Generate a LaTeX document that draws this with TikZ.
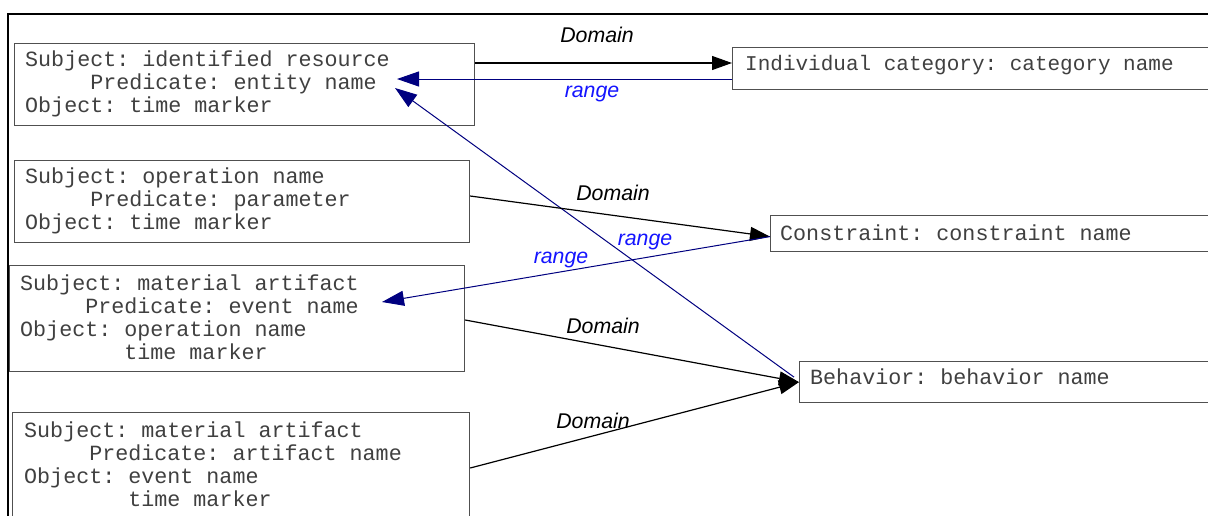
\documentclass[tikz,border=0pt]{standalone}
\usepackage{fontspec}
\setmainfont{Liberation Sans}
\setmonofont{Liberation Mono}
\usetikzlibrary{arrows.meta,calc}
\definecolor{navyline}{RGB}{0,0,128}
\definecolor{lblblue}{RGB}{20,20,255}
\definecolor{boxgray}{RGB}{80,80,80}
\begin{document}
\begin{tikzpicture}[x=1pt,y=-1pt,
  box/.style={draw=boxgray,line width=1.2pt,inner sep=0pt,anchor=north west},
  mono/.style={font=\ttfamily\fontsize{21.7}{23}\selectfont,inner sep=0pt,align=left,anchor=north west,text=black!75},
  monoone/.style={font=\ttfamily\fontsize{21.7}{23}\selectfont,inner sep=0pt,anchor=base west,text=black!75},
  lbl/.style={font=\itshape\fontsize{21.3}{24}\selectfont,inner sep=0pt,anchor=base},
  rlbl/.style={lbl,text=lblblue},
  dom/.style={draw=black,line width=1.2pt,-{Triangle[length=20pt,width=14pt]}},
  rng/.style={draw=navyline,line width=1pt,-{Triangle[length=22pt,width=15pt]}}
]
\useasboundingbox (0,0) rectangle (1208,515);
\clip (0,0) rectangle (1208,515);
\fill[white] (0,0) rectangle (1208,515);
% outer frame
\draw[line width=2.2pt] (8,560) -- (8,14) -- (1260,14);
% boxes
\node[box,minimum width=460pt,minimum height=82pt] (b1) at (14,43) {};
\node[box,minimum width=455pt,minimum height=82pt] (b2) at (14,160) {};
\node[box,minimum width=455pt,minimum height=106pt] (b3) at (9,265) {};
\node[box,minimum width=457pt,minimum height=150pt] (b4) at (12,412) {};
\node[box,minimum width=560pt,minimum height=42pt] (ind) at (732,47) {};
\node[box,minimum width=520pt,minimum height=36pt] (con) at (770,215) {};
\node[box,minimum width=490pt,minimum height=41pt] (beh) at (799,361) {};
% box texts
\node[mono] (t1) at (25,48) {\rule{0pt}{18pt}Subject: identified resource\\\phantom{xxxxx}Predicate: entity name\\Object: time marker};
\node[mono] (t2) at (25,165.5) {\rule{0pt}{18pt}Subject: operation name\\\phantom{xxxxx}Predicate: parameter\\Object: time marker};
\node[mono] (t3) at (20,272) {\rule{0pt}{18pt}Subject: material artifact\\\phantom{xxxxx}Predicate: event name\\Object: operation name\\\phantom{xxxxxxxx}time marker};
\node[mono] (t4) at (24,419) {\rule{0pt}{18pt}Subject: material artifact\\\phantom{xxxxx}Predicate: artifact name\\Object: event name\\\phantom{xxxxxxxx}time marker};
\node[monoone,font=\ttfamily\fontsize{21}{23}\selectfont] (tind) at (745,70) {Individual category: category name};
\node[monoone] (tcon) at (780,240) {Constraint: constraint name};
\node[monoone] (tbeh) at (810,384) {Behavior: behavior name};
% helper coordinates
\coordinate (y63) at (0,63);
\coordinate (p1) at (397,79);
\coordinate (p2) at (395,88);
\coordinate (y196) at (0,196);
\coordinate (p3) at (382,302);
\coordinate (y320) at (0,320);
\coordinate (y468) at (0,468);
% connectors
\draw[dom] (b1.east |- y63) -- (ind.west |- y63);
\draw[rng] (ind.west |- p1) -- (p1);
\draw[rng] ($(beh.west)+(-5,-5)$) -- (p2);
\draw[dom] (b2.east |- y196) -- ($(con.west)+(0,3)$);
\draw[rng] ($(con.west)+(0,3)$) -- (p3);
\draw[dom] (b3.east |- y320) -- (beh.west);
\draw[dom] (b4.east |- y468) -- (beh.west);
% labels
\node[lbl] (l1) at (597,42) {Domain};
\node[rlbl] (l2) at (592,97) {range};
\node[lbl] (l3) at (613,200) {Domain};
\node[rlbl] (l4) at (645,245) {range};
\node[rlbl] (l5) at (561,263) {range};
\node[lbl] (l6) at (603,333) {Domain};
\node[lbl] (l7) at (593,428) {Domain};
\end{tikzpicture}
\end{document}
